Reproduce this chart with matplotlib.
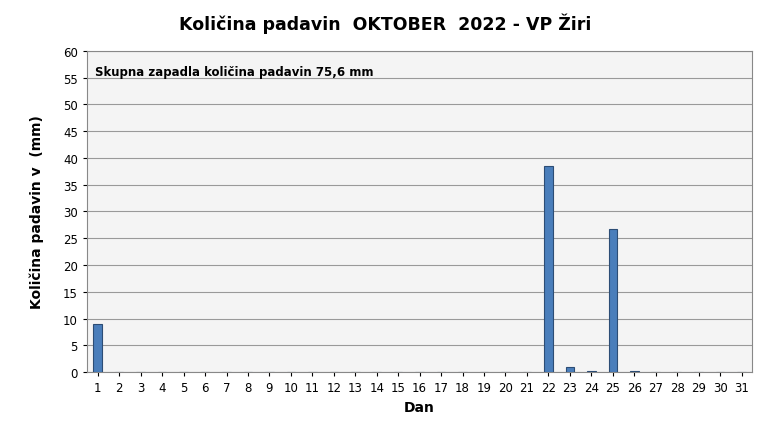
import matplotlib.pyplot as plt
import numpy as np

days = list(range(1, 32))
rain = [9.0] + [0]*20 + [38.5, 1.0, 0.2, 26.7, 0.2] + [0]*5
title = "Količina padavin  OKTOBER  2022 - VP Žiri"
note = "Skupna zapadla količina padavin 75,6 mm"

plt.rcParams['font.family'] = ['DejaVu Sans']
fig = plt.figure(figsize=(7.7, 4.39), dpi=100)
ax = fig.add_axes([0.113, 0.150, 0.864, 0.732])
ax.set_facecolor('#f4f4f4')
ax.bar(days, rain, width=0.4, color='#4a7ebb', edgecolor='#2c4d75', linewidth=0.8, zorder=3)
ax.set_xlim(0.5, 31.5)
ax.set_ylim(0, 60)
ax.set_yticks(np.arange(0, 61, 5))
ax.set_xticks(days)
ax.tick_params(labelsize=8.5, length=3)
ax.grid(axis='y', color='#999999', linewidth=0.8, zorder=0)
for s in ax.spines.values():
    s.set_color('#888888')
ax.set_xlabel("Dan", fontsize=10, fontweight='bold')
ax.set_ylabel("Količina padavin v  (mm)", fontsize=10, fontweight='bold', labelpad=14)
fig.suptitle(title, fontsize=12.5, fontweight='bold', y=0.97)
ax.text(0.012, 0.955, note, transform=ax.transAxes, fontsize=8.5, fontweight='bold', va='top')
fig.savefig('out.png')
